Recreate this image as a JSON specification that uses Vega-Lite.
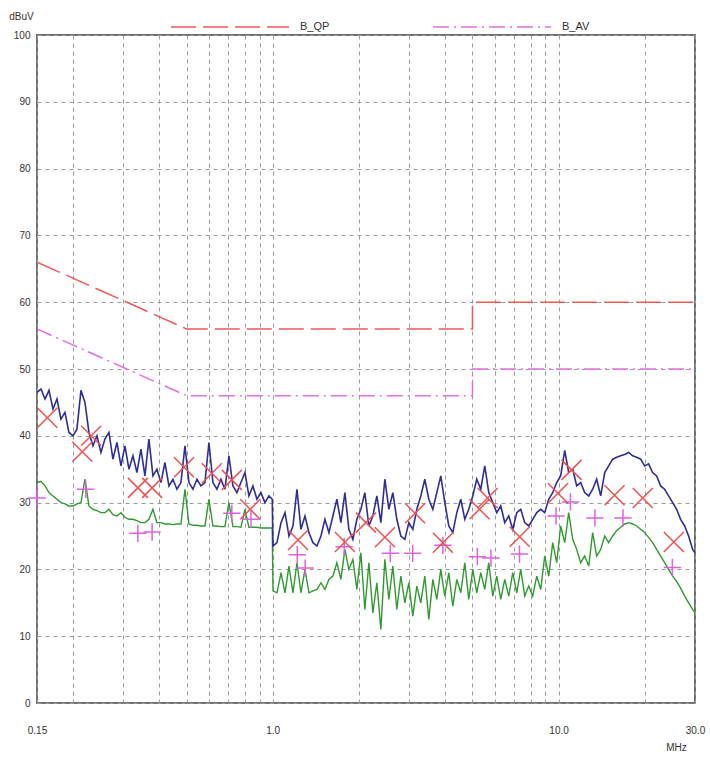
{
  "$schema": "https://vega.github.io/schema/vega-lite/v6.json",
  "width": 658,
  "height": 668,
  "autosize": "none",
  "padding": {"left": 37, "top": 35, "right": 15, "bottom": 55},
  "background": "white",
  "config": {
    "font": "Liberation Sans",
    "view": {"stroke": "#707070", "strokeWidth": 2},
    "axis": {"labelFont": "Liberation Sans", "titleFont": "Liberation Sans", "labelColor": "#333", "titleColor": "#333", "labelFontSize": 10, "titleFontSize": 10, "titleFontWeight": "normal", "gridColor": "#9a9a9a", "gridDash": [4, 4], "gridWidth": 1, "domain": false, "ticks": false}
  },
  "datasets": {
    "limits": [
      {"series": "B_QP", "i": 0, "f": 0.15, "db": 66},
      {"series": "B_QP", "i": 1, "f": 0.5, "db": 56},
      {"series": "B_QP", "i": 2, "f": 5, "db": 56},
      {"series": "B_QP", "i": 3, "f": 5, "db": 60},
      {"series": "B_QP", "i": 4, "f": 30, "db": 60},
      {"series": "B_AV", "i": 0, "f": 0.15, "db": 56},
      {"series": "B_AV", "i": 1, "f": 0.5, "db": 46},
      {"series": "B_AV", "i": 2, "f": 5, "db": 46},
      {"series": "B_AV", "i": 3, "f": 5, "db": 50},
      {"series": "B_AV", "i": 4, "f": 30, "db": 50}
    ],
    "peak": [
      {"f": 0.15, "db": 46.5}, {"f": 0.1549, "db": 47.0}, {"f": 0.16, "db": 45.5}, {"f": 0.1652, "db": 46.8},
      {"f": 0.1706, "db": 44.0}, {"f": 0.1762, "db": 45.5}, {"f": 0.1819, "db": 42.5}, {"f": 0.1879, "db": 43.5},
      {"f": 0.194, "db": 40.5}, {"f": 0.2004, "db": 40.0}, {"f": 0.2069, "db": 41.0}, {"f": 0.2137, "db": 46.8},
      {"f": 0.2207, "db": 45.0}, {"f": 0.2279, "db": 40.5}, {"f": 0.2354, "db": 38.5}, {"f": 0.2431, "db": 40.0},
      {"f": 0.251, "db": 37.5}, {"f": 0.2592, "db": 39.5}, {"f": 0.2677, "db": 40.5}, {"f": 0.2765, "db": 36.5},
      {"f": 0.2855, "db": 39.0}, {"f": 0.2949, "db": 35.5}, {"f": 0.3045, "db": 38.5}, {"f": 0.3145, "db": 35.0},
      {"f": 0.3248, "db": 37.0}, {"f": 0.3354, "db": 34.5}, {"f": 0.3464, "db": 38.0}, {"f": 0.3577, "db": 34.0},
      {"f": 0.3694, "db": 39.5}, {"f": 0.3815, "db": 34.0}, {"f": 0.394, "db": 35.0}, {"f": 0.4069, "db": 33.0},
      {"f": 0.4202, "db": 36.0}, {"f": 0.434, "db": 32.5}, {"f": 0.4482, "db": 33.5}, {"f": 0.4628, "db": 32.0},
      {"f": 0.478, "db": 33.0}, {"f": 0.4937, "db": 38.5}, {"f": 0.5098, "db": 33.0}, {"f": 0.5265, "db": 32.0},
      {"f": 0.5437, "db": 33.5}, {"f": 0.5615, "db": 32.5}, {"f": 0.5799, "db": 33.0}, {"f": 0.5989, "db": 39.0},
      {"f": 0.6185, "db": 33.0}, {"f": 0.6387, "db": 32.0}, {"f": 0.6596, "db": 33.5}, {"f": 0.6812, "db": 32.0},
      {"f": 0.7035, "db": 37.0}, {"f": 0.7265, "db": 32.5}, {"f": 0.7503, "db": 31.5}, {"f": 0.7748, "db": 33.0},
      {"f": 0.8002, "db": 34.5}, {"f": 0.8264, "db": 31.0}, {"f": 0.8534, "db": 32.5}, {"f": 0.8813, "db": 30.5},
      {"f": 0.9102, "db": 31.5}, {"f": 0.94, "db": 30.0}, {"f": 0.971, "db": 31.0}, {"f": 0.997, "db": 30.5},
      {"f": 1.003, "db": 23.5}, {"f": 1.036, "db": 24.0}, {"f": 1.07, "db": 27.0}, {"f": 1.105, "db": 28.5},
      {"f": 1.141, "db": 25.0}, {"f": 1.178, "db": 26.5}, {"f": 1.217, "db": 32.0}, {"f": 1.256, "db": 26.0},
      {"f": 1.298, "db": 28.0}, {"f": 1.34, "db": 25.5}, {"f": 1.384, "db": 24.0}, {"f": 1.429, "db": 23.5},
      {"f": 1.476, "db": 25.0}, {"f": 1.524, "db": 27.5}, {"f": 1.574, "db": 25.5}, {"f": 1.625, "db": 28.0},
      {"f": 1.678, "db": 30.5}, {"f": 1.733, "db": 27.0}, {"f": 1.79, "db": 31.5}, {"f": 1.848, "db": 26.0},
      {"f": 1.909, "db": 24.5}, {"f": 1.971, "db": 27.5}, {"f": 2.036, "db": 29.0}, {"f": 2.102, "db": 31.5},
      {"f": 2.171, "db": 26.5}, {"f": 2.242, "db": 28.0}, {"f": 2.315, "db": 31.0}, {"f": 2.391, "db": 27.0},
      {"f": 2.469, "db": 33.5}, {"f": 2.55, "db": 29.0}, {"f": 2.633, "db": 31.5}, {"f": 2.719, "db": 27.5},
      {"f": 2.808, "db": 25.0}, {"f": 2.9, "db": 24.5}, {"f": 2.995, "db": 27.0}, {"f": 3.093, "db": 26.0},
      {"f": 3.194, "db": 29.0}, {"f": 3.298, "db": 31.0}, {"f": 3.406, "db": 33.5}, {"f": 3.518, "db": 30.5},
      {"f": 3.633, "db": 29.0}, {"f": 3.752, "db": 31.5}, {"f": 3.874, "db": 34.0}, {"f": 4.001, "db": 30.0},
      {"f": 4.132, "db": 26.5}, {"f": 4.267, "db": 25.5}, {"f": 4.407, "db": 28.5}, {"f": 4.551, "db": 30.5},
      {"f": 4.7, "db": 27.5}, {"f": 4.853, "db": 29.0}, {"f": 5.012, "db": 31.0}, {"f": 5.176, "db": 33.5},
      {"f": 5.345, "db": 32.0}, {"f": 5.52, "db": 35.5}, {"f": 5.701, "db": 31.5}, {"f": 5.887, "db": 30.0},
      {"f": 6.08, "db": 28.5}, {"f": 6.279, "db": 29.5}, {"f": 6.484, "db": 27.0}, {"f": 6.696, "db": 28.0},
      {"f": 6.915, "db": 26.0}, {"f": 7.141, "db": 28.5}, {"f": 7.375, "db": 29.0}, {"f": 7.616, "db": 27.0},
      {"f": 7.865, "db": 26.5}, {"f": 8.122, "db": 27.5}, {"f": 8.388, "db": 28.5}, {"f": 8.662, "db": 29.0},
      {"f": 8.946, "db": 28.5}, {"f": 9.238, "db": 30.5}, {"f": 9.54, "db": 31.5}, {"f": 9.852, "db": 33.0},
      {"f": 10.17, "db": 34.0}, {"f": 10.51, "db": 37.8}, {"f": 10.85, "db": 34.5}, {"f": 11.21, "db": 35.0},
      {"f": 11.57, "db": 32.5}, {"f": 11.95, "db": 33.0}, {"f": 12.34, "db": 31.5}, {"f": 12.75, "db": 31.0},
      {"f": 13.16, "db": 32.0}, {"f": 13.59, "db": 33.5}, {"f": 14.04, "db": 31.0}, {"f": 14.5, "db": 34.5},
      {"f": 14.97, "db": 35.5}, {"f": 15.46, "db": 36.5}, {"f": 15.97, "db": 36.8}, {"f": 16.49, "db": 37.0},
      {"f": 17.03, "db": 37.2}, {"f": 17.59, "db": 37.5}, {"f": 18.16, "db": 37.0}, {"f": 18.75, "db": 36.8},
      {"f": 19.37, "db": 36.5}, {"f": 20.0, "db": 35.5}, {"f": 20.65, "db": 35.8}, {"f": 21.33, "db": 34.5},
      {"f": 22.03, "db": 34.0}, {"f": 22.75, "db": 32.5}, {"f": 23.49, "db": 32.0}, {"f": 24.26, "db": 31.0},
      {"f": 25.06, "db": 30.0}, {"f": 25.88, "db": 29.0}, {"f": 26.72, "db": 27.5}, {"f": 27.6, "db": 26.5},
      {"f": 28.5, "db": 25.0}, {"f": 29.43, "db": 23.0}, {"f": 30.0, "db": 22.5}
    ],
    "avg": [
      {"f": 0.15, "db": 33.0}, {"f": 0.1549, "db": 33.2}, {"f": 0.16, "db": 32.5}, {"f": 0.1652, "db": 31.5},
      {"f": 0.1706, "db": 31.0}, {"f": 0.1762, "db": 30.5}, {"f": 0.1819, "db": 30.0}, {"f": 0.1879, "db": 29.8},
      {"f": 0.194, "db": 29.5}, {"f": 0.2004, "db": 29.5}, {"f": 0.2069, "db": 29.8}, {"f": 0.2137, "db": 30.0},
      {"f": 0.2207, "db": 33.5}, {"f": 0.2279, "db": 29.5}, {"f": 0.2354, "db": 29.0}, {"f": 0.2431, "db": 28.8},
      {"f": 0.251, "db": 28.5}, {"f": 0.2592, "db": 28.5}, {"f": 0.2677, "db": 29.0}, {"f": 0.2765, "db": 28.2},
      {"f": 0.2855, "db": 28.0}, {"f": 0.2949, "db": 28.5}, {"f": 0.3045, "db": 27.8}, {"f": 0.3145, "db": 27.5},
      {"f": 0.3248, "db": 27.5}, {"f": 0.3354, "db": 27.3}, {"f": 0.3464, "db": 27.0}, {"f": 0.3577, "db": 27.0},
      {"f": 0.3694, "db": 27.5}, {"f": 0.3815, "db": 29.0}, {"f": 0.394, "db": 27.0}, {"f": 0.4069, "db": 27.0},
      {"f": 0.4202, "db": 26.8}, {"f": 0.434, "db": 26.8}, {"f": 0.4482, "db": 26.7}, {"f": 0.4628, "db": 26.8},
      {"f": 0.478, "db": 26.8}, {"f": 0.4937, "db": 32.0}, {"f": 0.5098, "db": 26.8}, {"f": 0.5265, "db": 26.6},
      {"f": 0.5437, "db": 26.6}, {"f": 0.5615, "db": 26.5}, {"f": 0.5799, "db": 26.5}, {"f": 0.5989, "db": 30.5},
      {"f": 0.6185, "db": 26.5}, {"f": 0.6387, "db": 26.5}, {"f": 0.6596, "db": 26.4}, {"f": 0.6812, "db": 26.4},
      {"f": 0.7035, "db": 30.0}, {"f": 0.7265, "db": 26.4}, {"f": 0.7503, "db": 26.4}, {"f": 0.7748, "db": 26.3},
      {"f": 0.8002, "db": 29.0}, {"f": 0.8264, "db": 26.3}, {"f": 0.8534, "db": 26.3}, {"f": 0.8813, "db": 26.3},
      {"f": 0.9102, "db": 26.2}, {"f": 0.94, "db": 26.2}, {"f": 0.971, "db": 26.2}, {"f": 0.997, "db": 26.2},
      {"f": 1.003, "db": 16.8}, {"f": 1.036, "db": 16.5}, {"f": 1.07, "db": 19.5}, {"f": 1.105, "db": 16.5},
      {"f": 1.141, "db": 20.5}, {"f": 1.178, "db": 16.5}, {"f": 1.217, "db": 21.0}, {"f": 1.256, "db": 16.5},
      {"f": 1.298, "db": 20.0}, {"f": 1.34, "db": 16.5}, {"f": 1.384, "db": 16.8}, {"f": 1.429, "db": 17.0},
      {"f": 1.476, "db": 18.0}, {"f": 1.524, "db": 17.0}, {"f": 1.574, "db": 18.5}, {"f": 1.625, "db": 19.0},
      {"f": 1.678, "db": 21.0}, {"f": 1.733, "db": 18.5}, {"f": 1.79, "db": 23.0}, {"f": 1.848, "db": 20.0},
      {"f": 1.909, "db": 21.5}, {"f": 1.971, "db": 17.0}, {"f": 2.036, "db": 22.5}, {"f": 2.102, "db": 14.0},
      {"f": 2.171, "db": 21.0}, {"f": 2.242, "db": 13.5}, {"f": 2.315, "db": 18.0}, {"f": 2.391, "db": 11.0},
      {"f": 2.469, "db": 21.5}, {"f": 2.55, "db": 15.5}, {"f": 2.633, "db": 20.5}, {"f": 2.719, "db": 14.0},
      {"f": 2.808, "db": 19.0}, {"f": 2.9, "db": 15.0}, {"f": 2.995, "db": 18.0}, {"f": 3.093, "db": 13.0},
      {"f": 3.194, "db": 17.5}, {"f": 3.298, "db": 15.0}, {"f": 3.406, "db": 19.0}, {"f": 3.518, "db": 12.5},
      {"f": 3.633, "db": 18.5}, {"f": 3.752, "db": 15.5}, {"f": 3.874, "db": 20.0}, {"f": 4.001, "db": 16.0},
      {"f": 4.132, "db": 19.5}, {"f": 4.267, "db": 14.5}, {"f": 4.407, "db": 18.5}, {"f": 4.551, "db": 16.5},
      {"f": 4.7, "db": 21.0}, {"f": 4.853, "db": 15.5}, {"f": 5.012, "db": 20.0}, {"f": 5.176, "db": 16.5},
      {"f": 5.345, "db": 19.5}, {"f": 5.52, "db": 17.0}, {"f": 5.701, "db": 21.0}, {"f": 5.887, "db": 16.0},
      {"f": 6.08, "db": 19.0}, {"f": 6.279, "db": 15.5}, {"f": 6.484, "db": 18.5}, {"f": 6.696, "db": 16.0},
      {"f": 6.915, "db": 19.5}, {"f": 7.141, "db": 16.5}, {"f": 7.375, "db": 20.0}, {"f": 7.616, "db": 16.0},
      {"f": 7.865, "db": 17.5}, {"f": 8.122, "db": 16.0}, {"f": 8.388, "db": 19.0}, {"f": 8.662, "db": 17.0},
      {"f": 8.946, "db": 22.0}, {"f": 9.238, "db": 19.0}, {"f": 9.54, "db": 24.0}, {"f": 9.852, "db": 21.0},
      {"f": 10.17, "db": 26.5}, {"f": 10.51, "db": 24.0}, {"f": 10.85, "db": 28.5}, {"f": 11.21, "db": 24.5},
      {"f": 11.57, "db": 23.0}, {"f": 11.95, "db": 21.0}, {"f": 12.34, "db": 22.0}, {"f": 12.75, "db": 20.5},
      {"f": 13.16, "db": 25.5}, {"f": 13.59, "db": 22.0}, {"f": 14.04, "db": 23.0}, {"f": 14.5, "db": 25.0},
      {"f": 14.97, "db": 24.0}, {"f": 15.46, "db": 25.0}, {"f": 15.97, "db": 25.8}, {"f": 16.49, "db": 26.3},
      {"f": 17.03, "db": 26.8}, {"f": 17.59, "db": 27.0}, {"f": 18.16, "db": 26.8}, {"f": 18.75, "db": 26.5},
      {"f": 19.37, "db": 26.0}, {"f": 20.0, "db": 25.5}, {"f": 20.65, "db": 24.8}, {"f": 21.33, "db": 24.0},
      {"f": 22.03, "db": 23.0}, {"f": 22.75, "db": 22.0}, {"f": 23.49, "db": 21.0}, {"f": 24.26, "db": 20.0},
      {"f": 25.06, "db": 19.0}, {"f": 25.88, "db": 18.2}, {"f": 26.72, "db": 17.2}, {"f": 27.6, "db": 16.0},
      {"f": 28.5, "db": 15.0}, {"f": 29.43, "db": 14.0}, {"f": 30.0, "db": 13.5}
    ],
    "qp": [
      {"f": 0.163, "db": 42.7}, {"f": 0.216, "db": 37.6}, {"f": 0.232, "db": 40.0}, {"f": 0.338, "db": 32.2},
      {"f": 0.379, "db": 32.2}, {"f": 0.49, "db": 35.3}, {"f": 0.613, "db": 34.4}, {"f": 0.72, "db": 33.4},
      {"f": 0.835, "db": 29.0}, {"f": 1.227, "db": 24.4}, {"f": 1.79, "db": 24.1}, {"f": 2.12, "db": 27.0},
      {"f": 2.47, "db": 24.8}, {"f": 3.15, "db": 28.4}, {"f": 3.94, "db": 24.0}, {"f": 5.29, "db": 29.0},
      {"f": 5.65, "db": 30.7}, {"f": 7.31, "db": 24.9}, {"f": 9.95, "db": 31.4}, {"f": 11.1, "db": 34.9},
      {"f": 15.7, "db": 31.1}, {"f": 19.7, "db": 30.7}, {"f": 25.3, "db": 24.1}
    ],
    "av": [
      {"f": 0.15, "db": 30.7}, {"f": 0.222, "db": 32.0}, {"f": 0.338, "db": 25.4}, {"f": 0.379, "db": 25.6},
      {"f": 0.72, "db": 28.4}, {"f": 0.84, "db": 27.5}, {"f": 1.22, "db": 22.2}, {"f": 1.3, "db": 20.2},
      {"f": 1.78, "db": 23.4}, {"f": 2.58, "db": 22.4}, {"f": 3.09, "db": 22.4}, {"f": 3.94, "db": 23.6},
      {"f": 5.2, "db": 21.9}, {"f": 5.8, "db": 21.7}, {"f": 7.3, "db": 22.3}, {"f": 9.8, "db": 28.0},
      {"f": 11.0, "db": 30.1}, {"f": 13.4, "db": 27.7}, {"f": 16.8, "db": 27.7}, {"f": 25.0, "db": 20.3}
    ]
  },
  "layer": [
    {
      "data": {"name": "limits"},
      "mark": {"type": "line", "strokeWidth": 1.5, "clip": true},
      "encoding": {
        "x": {"field": "f", "type": "quantitative", "scale": {"type": "log", "domain": [0.15, 30], "nice": false},
          "axis": {"title": "MHz", "titleX": 639, "titleY": 44, "titleAlign": "center", "titleBaseline": "middle",
            "values": [0.15, 0.2, 0.3, 0.4, 0.5, 0.6, 0.7, 0.8, 0.9, 1, 2, 3, 4, 5, 6, 7, 8, 9, 10, 20, 30],
            "labelExpr": "datum.value == 0.15 ? '0.15' : (datum.value == 1 || datum.value == 10 || datum.value == 30) ? format(datum.value, '.1f') : ''",
            "labelPadding": 22, "labelDx": 3, "labelFlush": false, "labelOverlap": false, "grid": true}},
        "y": {"field": "db", "type": "quantitative", "scale": {"domain": [0, 100], "nice": false},
          "axis": {"title": "dBuV", "titleAngle": 0, "titleX": -16, "titleY": -19, "titleAlign": "center", "titleBaseline": "middle",
            "values": [0, 10, 20, 30, 40, 50, 60, 70, 80, 90, 100], "labelPadding": 7, "grid": true}},
        "color": {"field": "series", "type": "nominal",
          "scale": {"domain": ["B_QP", "B_AV"], "range": ["#f05858", "#e070e0"]},
          "legend": {"title": null, "orient": "none", "legendX": 133, "legendY": -68, "direction": "horizontal",
            "symbolType": "stroke", "symbolSize": 13924, "symbolStrokeWidth": 1.5, "labelOffset": 10, "columnPadding": 100,
            "labelFontSize": 11, "labelColor": "#333", "labelFont": "Liberation Sans"}},
        "strokeDash": {"field": "series", "type": "nominal",
          "scale": {"domain": ["B_QP", "B_AV"], "range": [[25, 7], [16, 5, 2, 5]]},
          "legend": {"title": null, "orient": "none", "legendX": 133, "legendY": -68, "direction": "horizontal",
            "symbolType": "stroke", "symbolSize": 13924, "symbolStrokeWidth": 1.5, "labelOffset": 10, "columnPadding": 100,
            "labelFontSize": 11, "labelColor": "#333", "labelFont": "Liberation Sans"}},
        "order": {"field": "i", "type": "quantitative"}
      }
    },
    {
      "data": {"name": "avg"},
      "mark": {"type": "line", "color": "#2f9a2f", "strokeWidth": 1.4, "clip": true},
      "encoding": {
        "x": {"field": "f", "type": "quantitative"},
        "y": {"field": "db", "type": "quantitative"}
      }
    },
    {
      "data": {"name": "peak"},
      "mark": {"type": "line", "color": "#2e2e98", "strokeWidth": 1.6, "clip": true},
      "encoding": {
        "x": {"field": "f", "type": "quantitative"},
        "y": {"field": "db", "type": "quantitative"}
      }
    },
    {
      "data": {"name": "av"},
      "mark": {"type": "point", "shape": "M-1,0L1,0M0,-1L0,1", "size": 300, "filled": false, "color": "#e060e0", "strokeWidth": 1.5, "opacity": 1},
      "encoding": {
        "x": {"field": "f", "type": "quantitative"},
        "y": {"field": "db", "type": "quantitative"}
      }
    },
    {
      "data": {"name": "qp"},
      "mark": {"type": "point", "shape": "M-1,-1L1,1M-1,1L1,-1", "size": 400, "filled": false, "color": "#f05050", "strokeWidth": 1.5, "opacity": 1},
      "encoding": {
        "x": {"field": "f", "type": "quantitative"},
        "y": {"field": "db", "type": "quantitative"}
      }
    }
  ]
}
